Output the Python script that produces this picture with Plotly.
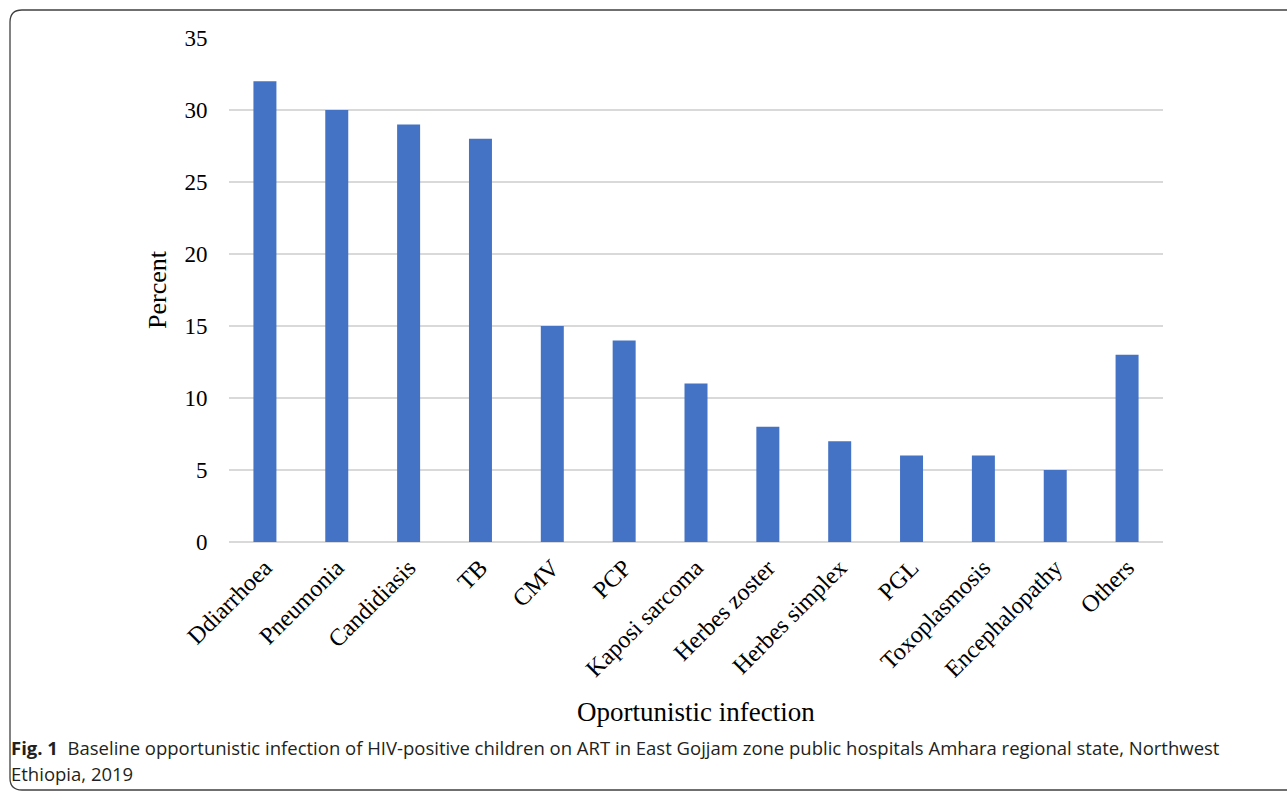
import plotly.graph_objects as go

categories = ["Ddiarrhoea", "Pneumonia", "Candidiasis", "TB", "CMV", "PCP",
              "Kaposi sarcoma", "Herbes zoster", "Herbes simplex", "PGL",
              "Toxoplasmosis", "Encephalopathy", "Others"]
percent = [32, 30, 29, 28, 15, 14, 11, 8, 7, 6, 6, 5, 13]
y_ticks = [0, 5, 10, 15, 20, 25, 30, 35]

W, H = 1287, 793
L, R, T, B = 229, 124, 38, 251
pw, ph = W - L - R, H - T - B


def px(x):
    return (x - L) / pw


def py(y):
    return (H - B - y) / ph


serif = "Liberation Serif, Times New Roman, serif"
sans = "Open Sans, sans-serif"

fig = go.Figure(go.Bar(x=categories, y=percent, marker_color="#4472C4",
                       marker_line_width=0))

# rounded frame around the figure and caption
r = 12
x0, y0, x1, y1 = 10, 10, 1310, 790
path = (f"M {px(x0)},{py(y0 + r)} Q {px(x0)},{py(y0)} {px(x0 + r)},{py(y0)} "
        f"L {px(x1)},{py(y0)} "
        f"M {px(x0)},{py(y0 + r)} L {px(x0)},{py(y1 - r)} "
        f"Q {px(x0)},{py(y1)} {px(x0 + r)},{py(y1)} L {px(x1)},{py(y1)}")

fig.update_layout(
    width=W, height=H,
    margin=dict(l=L, r=R, t=T, b=B),
    plot_bgcolor="white", paper_bgcolor="white",
    bargap=0.68,
    showlegend=False,
    font=dict(family=serif, color="#000000"),
    shapes=[dict(type="path", path=path, xref="paper", yref="paper",
                 line=dict(color="#404040", width=1.3), layer="above")],
    annotations=[
        dict(text="<b>Fig. 1</b>  Baseline opportunistic infection of HIV-positive children on ART in "
                  "East Gojjam zone public hospitals Amhara regional state, Northwest",
             xref="paper", yref="paper", x=px(9), y=py(748), xanchor="left", yanchor="middle",
             showarrow=False, font=dict(family=sans, size=18.5, color="#231f20")),
        dict(text="Ethiopia, 2019",
             xref="paper", yref="paper", x=px(9), y=py(773), xanchor="left", yanchor="middle",
             showarrow=False, font=dict(family=sans, size=18.5, color="#231f20")),
        dict(text="Oportunistic infection", xref="paper", yref="paper",
             x=0.5, y=py(712), xanchor="center", yanchor="middle", showarrow=False,
             font=dict(family=serif, size=27, color="#000000")),
        dict(text="Percent", xref="paper", yref="paper",
             x=px(157), y=py(290), xanchor="center", yanchor="middle", showarrow=False,
             textangle=-90, font=dict(family=serif, size=26, color="#000000")),
    ],
)

fig.update_xaxes(tickangle=-45, tickfont=dict(family=serif, size=24),
                 ticklabelstandoff=6,
                 showline=False, showgrid=False, ticks="", fixedrange=True)
fig.update_yaxes(range=[0, 35], tickvals=y_ticks, showgrid=True,
                 gridcolor="#d9d9d9", gridwidth=1.5, zeroline=True,
                 zerolinecolor="#d9d9d9", zerolinewidth=1.5,
                 ticks="outside", ticklen=16, tickcolor="rgba(0,0,0,0)",
                 tickfont=dict(family=serif, size=23))

fig.write_html("out.html")
